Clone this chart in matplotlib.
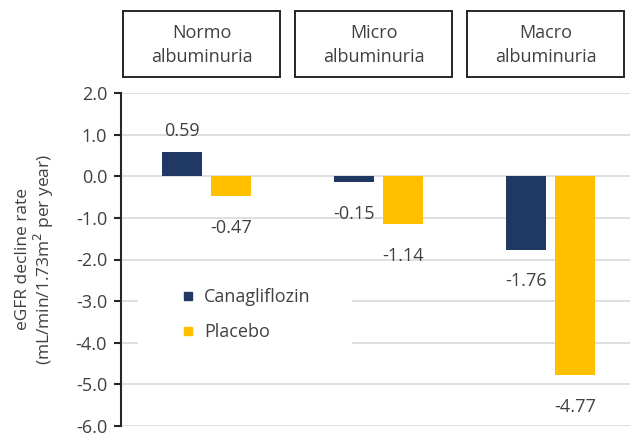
import matplotlib
matplotlib.use("Agg")
import matplotlib.pyplot as plt
import matplotlib.transforms as mtransforms
from matplotlib.patches import Rectangle
from matplotlib.lines import Line2D
import numpy as np

plt.rcParams['font.family'] = ['Open Sans', 'DejaVu Sans']
plt.rcParams['axes.unicode_minus'] = False

groups = ["Normo\nalbuminuria", "Micro\nalbuminuria", "Macro\nalbuminuria"]
series_names = ["Canagliflozin", "Placebo"]
canagliflozin = [0.59, -0.15, -1.76]
placebo = [-0.47, -1.14, -4.77]
yticks = [2.0, 1.0, 0.0, -1.0, -2.0, -3.0, -4.0, -5.0, -6.0]

NAVY = "#203864"
GOLD = "#FFC000"
TXT = "#404040"
FS = 13

fig = plt.figure(figsize=(6.3, 4.33), dpi=100)
ax = fig.add_axes([121/630, 7/433, 509/630, 333/433])

x = np.arange(len(groups))
w = 0.2326
off = 0.1424
b1 = ax.bar(x - off, canagliflozin, w, color=NAVY, zorder=3)
b2 = ax.bar(x + off, placebo, w, color=GOLD, zorder=3)

for bars, vals in ((b1, canagliflozin), (b2, placebo)):
    for rect, v in zip(bars, vals):
        cx = rect.get_x() + rect.get_width() / 2
        dy = 15 if v >= 0 else -23
        ax.annotate(f"{v:.2f}", (cx, v), xytext=(0, dy), textcoords="offset points",
                    ha="center", va="center", fontsize=FS, color=TXT, zorder=4)

ax.set_ylim(-6.0, 2.0)
ax.set_xlim(-0.497, 2.462)
ax.set_yticks(yticks)
ax.set_yticklabels([f"{t:.1f}" for t in yticks])
ax.set_xticks([])
ax.yaxis.grid(True, color="#d9d9d9", linewidth=1.2, zorder=0)
ax.set_axisbelow(True)
for s in ("top", "right", "bottom"):
    ax.spines[s].set_visible(False)
ax.spines["left"].set_color("#262626")
ax.spines["left"].set_linewidth(1.5)
ax.tick_params(axis="y", direction="out", length=5, width=1.5, color="#262626",
               labelsize=FS, labelcolor=TXT, pad=5)
ax.set_ylabel("eGFR decline rate\n(mL/min/1.73m$^2$ per year)", fontsize=12.5,
              color=TXT, linespacing=1.05, labelpad=14)

# group header boxes
trans = mtransforms.blended_transform_factory(ax.transData, fig.transFigure)
bw = 0.913
for xi, g in zip(x, groups):
    cx = xi - 0.029
    fig.add_artist(Rectangle((cx - bw/2, 1 - 77/433), bw, 66/433, transform=trans,
                             facecolor="white", edgecolor="#262626", linewidth=1.4))
    fig.text(cx, 1 - 45/433, g, transform=trans, ha="center", va="center",
             fontsize=FS, color=TXT, linespacing=1.45)

# legend background (white box masking gridlines, as in the reference)
ax.add_patch(Rectangle((0.033, 0.213), 0.421, 0.24, transform=ax.transAxes,
                       facecolor="white", edgecolor="none", zorder=1))
handles = [Line2D([], [], marker="s", linestyle="none", markersize=6, color=c)
           for c in (NAVY, GOLD)]
leg = ax.legend(handles, series_names, loc="center left", bbox_to_anchor=(0.0998, 0.335),
                frameon=False, fontsize=FS, handlelength=0.8, handletextpad=0.49,
                labelspacing=0.94, borderpad=0.0)
for t in leg.get_texts():
    t.set_color(TXT)

fig.savefig("out.png", dpi=100)
